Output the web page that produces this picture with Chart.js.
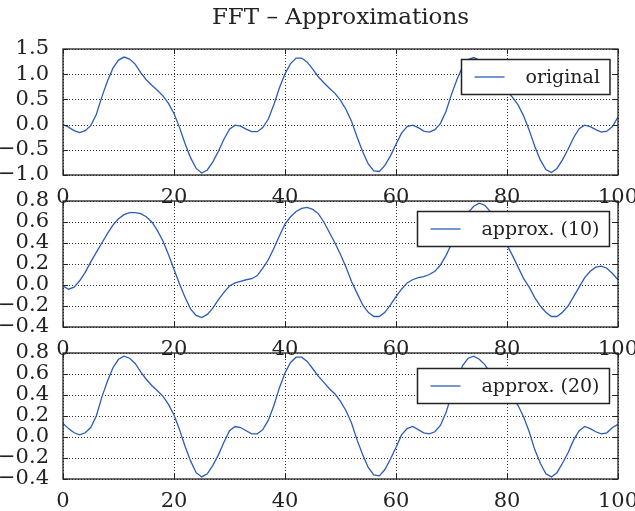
<!DOCTYPE html>
<html lang="en">
  <head>
    <meta charset="UTF-8" />
    <title>FFT – Approximations</title>
    <script src="https://cdn.jsdelivr.net/npm/chart.js"></script>
    <style>
      body {
        margin: 0;
        background: #fff;
      }
      #wrap {
        position: relative;
        width: 635px;
        height: 511px;
      }
      #wrap canvas {
        position: absolute;
        left: 0;
        top: 0;
      }
      #title {
        position: absolute;
        left: 0;
        top: 3px;
        width: 681px;
        text-align: center;
        font-family: "DejaVu Serif", serif;
        font-size: 23px;
        color: #222;
      }
    </style>
  </head>
  <body>
    <div id="wrap">
      <canvas id="plotOriginal" width="635" height="511"></canvas>
      <canvas id="plotApprox10" width="635" height="511"></canvas>
      <canvas id="plotApprox20" width="635" height="511"></canvas>
      <div id="title">FFT – Approximations</div>
    </div>

    <script>
      // sample positions
      var sampleX = [
        0, 1, 2, 3, 4, 5, 6, 7, 8, 9, 10, 11, 12, 13, 14, 15, 16, 17, 18, 19,
        20, 21, 22, 23, 24, 25, 26, 27, 28, 29, 30, 31, 32, 33, 34, 35, 36, 37,
        38, 39, 40, 41, 42, 43, 44, 45, 46, 47, 48, 49, 50, 51, 52, 53, 54, 55,
        56, 57, 58, 59, 60, 61, 62, 63, 64, 65, 66, 67, 68, 69, 70, 71, 72, 73,
        74, 75, 76, 77, 78, 79, 80, 81, 82, 83, 84, 85, 86, 87, 88, 89, 90, 91,
        92, 93, 94, 95, 96, 97, 98, 99, 100,
      ];

      var original = [
        0.0, -0.05, -0.12, -0.16, -0.12, -0.02, 0.2, 0.55, 0.86, 1.12, 1.28,
        1.34, 1.3, 1.2, 1.03, 0.89, 0.78, 0.68, 0.57, 0.42, 0.22, -0.06, -0.38,
        -0.66, -0.87, -0.96, -0.9, -0.74, -0.53, -0.29, -0.09, -0.01, -0.03,
        -0.09, -0.14, -0.14, -0.06, 0.11, 0.4, 0.73, 1.01, 1.21, 1.32, 1.32,
        1.24, 1.1, 0.95, 0.83, 0.72, 0.62, 0.48, 0.3, 0.06, -0.25, -0.54, -0.78,
        -0.92, -0.93, -0.81, -0.62, -0.39, -0.17, -0.04, -0.01, -0.06, -0.13,
        -0.15, -0.1, 0.02, 0.26, 0.6, 0.9, 1.15, 1.29, 1.33, 1.28, 1.17, 1.01,
        0.87, 0.76, 0.66, 0.54, 0.39, 0.17, -0.11, -0.43, -0.7, -0.89, -0.95,
        -0.87, -0.7, -0.49, -0.26, -0.08, -0.01, -0.04, -0.1, -0.15, -0.13,
        -0.04, 0.15,
      ];

      var approx10 = [
        -0.01, -0.04, -0.02, 0.04, 0.12, 0.22, 0.31, 0.4, 0.49, 0.57, 0.63,
        0.67, 0.69, 0.69, 0.68, 0.65, 0.6, 0.52, 0.42, 0.29, 0.15, 0.01, -0.12,
        -0.23, -0.29, -0.31, -0.28, -0.22, -0.14, -0.07, -0.01, 0.02, 0.035,
        0.05, 0.06, 0.09, 0.16, 0.24, 0.35, 0.47, 0.58, 0.65, 0.7, 0.73, 0.74,
        0.72, 0.68, 0.6, 0.5, 0.4, 0.29, 0.17, 0.03, -0.08, -0.19, -0.26, -0.3,
        -0.3, -0.26, -0.19, -0.11, -0.04, 0.02, 0.05, 0.07, 0.08, 0.1, 0.13,
        0.19, 0.28, 0.39, 0.5, 0.6, 0.69, 0.75, 0.78, 0.76, 0.7, 0.6, 0.49,
        0.38, 0.28, 0.17, 0.06, -0.02, -0.12, -0.2, -0.26, -0.3, -0.3, -0.26,
        -0.2, -0.11, -0.02, 0.07, 0.13, 0.17, 0.18, 0.16, 0.11, 0.05,
      ];

      var approx20 = [
        0.13, 0.08, 0.04, 0.02, 0.04, 0.09, 0.2, 0.38, 0.53, 0.66, 0.74, 0.77,
        0.75, 0.7, 0.62, 0.55, 0.49, 0.44, 0.39, 0.31, 0.21, 0.07, -0.09, -0.23,
        -0.34, -0.38, -0.35, -0.27, -0.17, -0.05, 0.06, 0.1, 0.09, 0.06, 0.03,
        0.03, 0.07, 0.16, 0.3, 0.47, 0.61, 0.71, 0.76, 0.76, 0.72, 0.65, 0.58,
        0.52, 0.46, 0.41, 0.34, 0.25, 0.13, -0.03, -0.17, -0.29, -0.36, -0.37,
        -0.31, -0.21, -0.1, 0.02, 0.08, 0.1, 0.07, 0.04, 0.03, 0.05, 0.11, 0.23,
        0.4, 0.55, 0.68, 0.75, 0.77, 0.74, 0.69, 0.61, 0.54, 0.48, 0.43, 0.37,
        0.3, 0.19, 0.05, -0.12, -0.25, -0.35, -0.38, -0.34, -0.25, -0.15, -0.03,
        0.06, 0.1, 0.08, 0.05, 0.03, 0.04, 0.09, 0.12,
      ];

      var xTicks = [0, 20, 40, 60, 80, 100];
      var yTicksOriginal = [-1.0, -0.5, 0.0, 0.5, 1.0, 1.5];
      var yTicksApprox = [-0.4, -0.2, 0.0, 0.2, 0.4, 0.6, 0.8];

      var FONT = "DejaVu Serif";
      var INK = "#222";
      var LINE_BLUE = "#2c5bb8";

      // dotted grid under the curve
      var dottedGrid = {
        id: "dottedGrid",
        beforeDatasetsDraw: function (chart) {
          var ctx = chart.ctx;
          var a = chart.chartArea;
          var sx = chart.scales.x;
          var sy = chart.scales.y;
          ctx.save();
          ctx.strokeStyle = "#333";
          ctx.lineWidth = 1;
          ctx.setLineDash([1, 2]);
          sx.ticks.forEach(function (t) {
            var px = Math.round(sx.getPixelForValue(t.value)) + 0.5;
            ctx.beginPath();
            ctx.moveTo(px, a.top);
            ctx.lineTo(px, a.bottom);
            ctx.stroke();
          });
          sy.ticks.forEach(function (t) {
            var py = Math.round(sy.getPixelForValue(t.value)) + 0.5;
            ctx.beginPath();
            ctx.moveTo(a.left, py);
            ctx.lineTo(a.right, py);
            ctx.stroke();
          });
          ctx.restore();
        },
      };

      // axes frame with inward tick marks on all four sides, then the boxed legend
      var frameAndLegend = {
        id: "frameAndLegend",
        afterDraw: function (chart) {
          var ctx = chart.ctx;
          var a = chart.chartArea;
          var sx = chart.scales.x;
          var sy = chart.scales.y;
          var len = 5;
          ctx.save();
          ctx.strokeStyle = INK;
          ctx.lineWidth = 1.3;
          ctx.strokeRect(a.left, a.top, a.right - a.left, a.bottom - a.top);
          ctx.lineWidth = 1;
          ctx.beginPath();
          sx.ticks.forEach(function (t) {
            var px = Math.round(sx.getPixelForValue(t.value)) + 0.5;
            ctx.moveTo(px, a.bottom);
            ctx.lineTo(px, a.bottom - len);
            ctx.moveTo(px, a.top);
            ctx.lineTo(px, a.top + len);
          });
          sy.ticks.forEach(function (t) {
            var py = Math.round(sy.getPixelForValue(t.value)) + 0.5;
            ctx.moveTo(a.left, py);
            ctx.lineTo(a.left + len, py);
            ctx.moveTo(a.right, py);
            ctx.lineTo(a.right - len, py);
          });
          ctx.stroke();

          var ds = chart.data.datasets[0];
          var opts = chart.options.plugins.frameAndLegend;
          ctx.font = "19px '" + FONT + "'";
          var tw = ctx.measureText(ds.label).width;
          var w = 13 + 30 + 21 + tw + 10;
          var h = 35;
          var x = Math.round(a.right - 9 - w) + 0.5;
          var y = Math.round(a.top + opts.top) + 0.5;
          ctx.fillStyle = "#fff";
          ctx.fillRect(x, y, w, h);
          ctx.strokeStyle = INK;
          ctx.lineWidth = 1.5;
          ctx.strokeRect(x, y, w, h);
          ctx.strokeStyle = ds.borderColor;
          ctx.lineWidth = ds.borderWidth;
          ctx.beginPath();
          ctx.moveTo(x + 13, y + h / 2);
          ctx.lineTo(x + 43, y + h / 2);
          ctx.stroke();
          ctx.fillStyle = INK;
          ctx.textBaseline = "middle";
          ctx.fillText(ds.label, x + 64, y + h / 2 + 1);
          ctx.restore();
        },
      };

      function fmtY(v) {
        return Number(v).toFixed(1).replace("-", "\u2212");
      }

      function makePlot(id, label, values, yMin, yMax, yTicks, padTop, padBottom, legendTop) {
        var points = sampleX.map(function (x, i) {
          return { x: x, y: values[i] };
        });
        return new Chart(document.getElementById(id).getContext("2d"), {
          type: "line",
          data: {
            datasets: [
              {
                label: label,
                data: points,
                borderColor: LINE_BLUE,
                borderWidth: 1.3,
                pointRadius: 0,
                tension: 0,
                fill: false,
              },
            ],
          },
          options: {
            responsive: false,
            animation: false,
            devicePixelRatio: 1,
            events: [],
            layout: {
              padding: { left: 0, right: 17, top: padTop, bottom: padBottom },
            },
            plugins: {
              legend: { display: false },
              tooltip: { enabled: false },
              frameAndLegend: { top: legendTop },
            },
            scales: {
              x: {
                type: "linear",
                min: 0,
                max: 100,
                afterBuildTicks: function (s) {
                  s.ticks = xTicks.map(function (v) {
                    return { value: v };
                  });
                },
                afterFit: function (s) {
                  s.height = 30;
                  s.paddingLeft = 0;
                  s.paddingRight = 0;
                },
                grid: { display: false },
                border: { display: false },
                ticks: {
                  padding: 2,
                  maxRotation: 0,
                  autoSkip: false,
                  color: INK,
                  font: { family: FONT, size: 21 },
                  callback: function (v) {
                    return String(v);
                  },
                },
              },
              y: {
                min: yMin,
                max: yMax,
                afterBuildTicks: function (s) {
                  s.ticks = yTicks.map(function (v) {
                    return { value: v };
                  });
                },
                afterFit: function (s) {
                  s.width = 63;
                  s.paddingTop = 0;
                  s.paddingBottom = 0;
                },
                grid: { display: false },
                border: { display: false },
                ticks: {
                  padding: 6,
                  autoSkip: false,
                  color: INK,
                  font: { family: FONT, size: 21 },
                  callback: fmtY,
                },
              },
            },
          },
          plugins: [dottedGrid, frameAndLegend],
        });
      }

      makePlot("plotOriginal", "original", original, -1.0, 1.5, yTicksOriginal, 49, 306, 10);
      makePlot("plotApprox10", "approx. (10)", approx10, -0.4, 0.8, yTicksApprox, 201, 154, 10);
      makePlot("plotApprox20", "approx. (20)", approx20, -0.4, 0.8, yTicksApprox, 353, 2, 15);
    </script>
  </body>
</html>
